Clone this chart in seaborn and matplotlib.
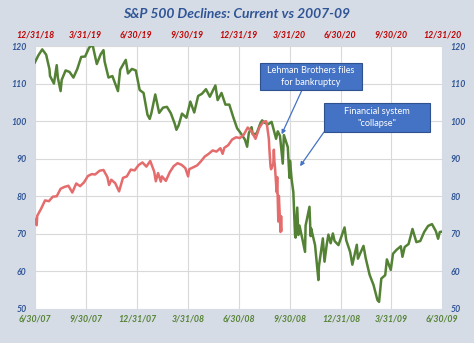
import matplotlib
matplotlib.use("Agg")
import matplotlib.pyplot as plt
from matplotlib.patches import Rectangle
import pandas as pd
import seaborn as sns

# ---- S&P 500 indexed to 100 (2007-09 path vs the 2019-20 path) ----
crisis_dates = [
    "2007-06-29", "2007-07-06", "2007-07-13", "2007-07-20", "2007-07-26", "2007-07-27",
    "2007-08-03", "2007-08-08", "2007-08-10", "2007-08-15", "2007-08-17", "2007-08-24",
    "2007-08-31", "2007-09-07", "2007-09-14", "2007-09-21", "2007-09-28", "2007-10-05",
    "2007-10-09", "2007-10-12", "2007-10-19", "2007-10-26", "2007-10-31", "2007-11-02",
    "2007-11-09", "2007-11-16", "2007-11-26", "2007-11-30", "2007-12-07", "2007-12-10",
    "2007-12-14", "2007-12-21", "2007-12-28", "2008-01-04", "2008-01-11", "2008-01-18",
    "2008-01-22", "2008-01-25", "2008-02-01", "2008-02-08", "2008-02-15", "2008-02-22",
    "2008-02-29", "2008-03-07", "2008-03-10", "2008-03-14", "2008-03-20", "2008-03-28",
    "2008-04-04", "2008-04-11", "2008-04-18", "2008-04-25", "2008-05-02", "2008-05-09",
    "2008-05-19", "2008-05-23", "2008-05-30", "2008-06-06", "2008-06-13", "2008-06-20",
    "2008-06-27", "2008-07-03", "2008-07-11", "2008-07-15", "2008-07-18", "2008-07-23",
    "2008-07-25", "2008-08-01", "2008-08-08", "2008-08-11", "2008-08-15", "2008-08-22",
    "2008-08-28", "2008-09-05", "2008-09-08", "2008-09-12", "2008-09-15", "2008-09-17",
    "2008-09-19", "2008-09-26", "2008-09-29", "2008-09-30", "2008-10-03", "2008-10-06",
    "2008-10-09", "2008-10-10", "2008-10-13", "2008-10-15", "2008-10-17", "2008-10-22",
    "2008-10-24", "2008-10-27", "2008-10-28", "2008-11-04", "2008-11-06", "2008-11-07",
    "2008-11-14", "2008-11-20", "2008-11-21", "2008-11-28", "2008-12-01", "2008-12-05",
    "2008-12-08", "2008-12-12", "2008-12-16", "2008-12-19", "2008-12-26", "2009-01-06",
    "2009-01-09", "2009-01-16", "2009-01-20", "2009-01-23", "2009-01-28", "2009-01-30",
    "2009-02-09", "2009-02-13", "2009-02-20", "2009-02-27", "2009-03-06", "2009-03-09",
    "2009-03-13", "2009-03-20", "2009-03-23", "2009-03-30", "2009-04-03", "2009-04-09",
    "2009-04-17", "2009-04-20", "2009-04-24", "2009-05-01", "2009-05-08", "2009-05-15",
    "2009-05-22", "2009-05-29", "2009-06-05", "2009-06-12", "2009-06-19", "2009-06-23",
    "2009-06-26", "2009-06-30",
]
crisis_values = [
    115.4, 117.5, 119.1, 117.7, 113.8, 112.0,
    110.0, 114.9, 111.6, 108.0, 111.0, 113.5,
    113.1, 111.6, 113.9, 117.1, 117.2, 119.5,
    120.1, 119.9, 115.2, 117.8, 118.9, 115.9,
    111.6, 112.0, 108.0, 113.7, 115.5, 116.3,
    112.7, 113.9, 113.5, 108.3, 107.5, 101.7,
    100.6, 102.1, 107.1, 102.2, 103.6, 103.8,
    102.1, 99.3, 97.7, 98.9, 102.0, 100.9,
    105.2, 102.3, 106.7, 107.3, 108.5, 106.5,
    109.5, 105.6, 107.5, 104.4, 104.4, 101.1,
    98.1, 96.9, 95.1, 93.2, 96.8, 98.4,
    96.5, 96.7, 99.5, 100.2, 99.6, 99.2,
    99.8, 95.3, 97.3, 96.1, 91.5, 88.7,
    96.3, 93.1, 84.9, 89.5, 84.4, 81.1,
    69.8, 69.0, 77.0, 69.7, 72.2, 68.8,
    67.3, 65.2, 72.2, 77.2, 69.4, 71.4,
    67.0, 57.7, 61.4, 68.8, 62.6, 67.2,
    69.8, 67.5, 70.1, 68.1, 67.0, 71.7,
    68.3, 65.2, 61.8, 63.8, 67.1, 63.4,
    66.8, 63.5, 59.1, 56.4, 52.4, 51.9,
    58.1, 59.0, 63.2, 60.4, 64.7, 65.7,
    66.7, 63.9, 66.5, 67.3, 71.3, 67.8,
    68.1, 70.5, 72.1, 72.6, 70.7, 68.7,
    70.5, 70.6,
]

current_dates = [
    "2018-12-31", "2019-01-03", "2019-01-04", "2019-01-11", "2019-01-18", "2019-01-25",
    "2019-02-01", "2019-02-08", "2019-02-15", "2019-02-22", "2019-03-01", "2019-03-08",
    "2019-03-15", "2019-03-22", "2019-03-29", "2019-04-05", "2019-04-12", "2019-04-18",
    "2019-04-26", "2019-05-03", "2019-05-10", "2019-05-13", "2019-05-17", "2019-05-24",
    "2019-05-31", "2019-06-07", "2019-06-14", "2019-06-21", "2019-06-28", "2019-07-05",
    "2019-07-12", "2019-07-19", "2019-07-26", "2019-08-02", "2019-08-05", "2019-08-09",
    "2019-08-14", "2019-08-16", "2019-08-23", "2019-08-30", "2019-09-06", "2019-09-13",
    "2019-09-20", "2019-09-27", "2019-10-02", "2019-10-04", "2019-10-11", "2019-10-18",
    "2019-10-25", "2019-11-01", "2019-11-08", "2019-11-15", "2019-11-22", "2019-11-29",
    "2019-12-03", "2019-12-06", "2019-12-13", "2019-12-20", "2019-12-27", "2020-01-03",
    "2020-01-10", "2020-01-17", "2020-01-24", "2020-01-31", "2020-02-07", "2020-02-14",
    "2020-02-19", "2020-02-21", "2020-02-24", "2020-02-25", "2020-02-27", "2020-02-28",
    "2020-03-03", "2020-03-04", "2020-03-05", "2020-03-06", "2020-03-09", "2020-03-10",
    "2020-03-12", "2020-03-13", "2020-03-16", "2020-03-17", "2020-03-18",
]
current_values = [
    74.0, 72.3, 74.8, 76.7, 78.9, 78.7,
    79.9, 80.0, 82.0, 82.5, 82.8, 81.0,
    83.4, 82.7, 83.7, 85.4, 85.9, 85.8,
    86.8, 87.0, 85.1, 83.0, 84.4, 83.5,
    81.3, 84.9, 85.3, 87.1, 86.9, 88.3,
    89.0, 87.9, 89.4, 86.6, 84.0, 86.2,
    83.9, 85.3, 84.1, 86.4, 88.0, 88.8,
    88.4, 87.5, 85.3, 87.2, 87.7, 88.2,
    89.3, 90.6, 91.3, 92.2, 91.9, 92.8,
    91.3, 92.9, 93.6, 95.1, 95.7, 95.5,
    96.4, 98.3, 97.3, 95.3, 98.3, 99.8,
    100.0, 98.6, 95.3, 92.4, 88.0, 87.2,
    88.7, 92.4, 89.3, 87.8, 81.1, 85.1,
    73.3, 80.1, 70.5, 74.7, 70.8,
]

bottom_ticks = ["2007-06-30", "2007-09-30", "2007-12-31", "2008-03-31", "2008-06-30",
                "2008-09-30", "2008-12-31", "2009-03-31", "2009-06-30"]
bottom_labels = ["6/30/07", "9/30/07", "12/31/07", "3/31/08", "6/30/08",
                 "9/30/08", "12/31/08", "3/31/09", "6/30/09"]
top_ticks = ["2018-12-31", "2019-03-31", "2019-06-30", "2019-09-30", "2019-12-31",
             "2020-03-31", "2020-06-30", "2020-09-30", "2020-12-31"]
top_labels = ["12/31/18", "3/31/19", "6/30/19", "9/30/19", "12/31/19",
              "3/31/20", "6/30/20", "9/30/20", "12/31/20"]
y_ticks = [50, 60, 70, 80, 90, 100, 110, 120]

crisis = pd.DataFrame({"date": pd.to_datetime(crisis_dates), "index": crisis_values})
current = pd.DataFrame({"date": pd.to_datetime(current_dates), "index": current_values})

# ---- styling ----
sns.set_theme(style="white")
plt.rcParams["font.family"] = ["Liberation Sans Narrow", "Lato", "DejaVu Sans"]

W, H = 474, 343
BG = "#d6dce5"
GREEN = "#548235"
RED = "#e46c6c"
BLUE_TXT = "#2f5597"
BOX = "#4472c4"

fig = plt.figure(figsize=(W / 100, H / 100), dpi=100, facecolor=BG)
left, right, top, bottom = 35, 442, 46, 309
ax = fig.add_axes([left / W, 1 - bottom / H, (right - left) / W, (bottom - top) / H])
ax.set_facecolor("white")

sns.lineplot(data=crisis, x="date", y="index", ax=ax, color=GREEN, lw=1.8)
ax2 = ax.twiny()
sns.lineplot(data=current, x="date", y="index", ax=ax2, color=RED, lw=1.8)

ax.set_xlim(pd.Timestamp(bottom_ticks[0]), pd.Timestamp(bottom_ticks[-1]))
ax2.set_xlim(pd.Timestamp(top_ticks[0]), pd.Timestamp(top_ticks[-1]))
ax.set_ylim(50, 120)

tick_font = dict(fontweight="bold", fontstyle="italic", fontsize=6.3)
ax.set_xticks(pd.to_datetime(bottom_ticks))
ax.set_xticklabels(bottom_labels, color=GREEN, **tick_font)
ax2.set_xticks(pd.to_datetime(top_ticks))
ax2.set_xticklabels(top_labels, color="#c00000", **tick_font)
ax.set_yticks(y_ticks)
ax.set_yticklabels([str(v) for v in y_ticks], color=BLUE_TXT, **tick_font)
ax.tick_params(axis="y", length=0, labelleft=True, labelright=True, pad=6)
ax.tick_params(axis="x", length=0, pad=4)
ax2.tick_params(axis="x", length=0, pad=5)

ax.grid(True, color="#d9d9d9", lw=0.8)
ax.set_axisbelow(True)
ax2.grid(False)
for a in (ax, ax2):
    a.set_xlabel("")
    a.set_ylabel("")
    for s in a.spines.values():
        s.set_visible(False)

fig.text(0.5, 1 - 13.5 / H, "S&P 500 Declines: Current vs 2007-09", ha="center", va="center",
         fontsize=10, fontweight="bold", fontstyle="italic", color=BLUE_TXT)


def fig_frac(px, py):
    return px / W, 1 - py / H


# ---- callout boxes ----
callouts = [
    ("Lehman Brothers files\nfor bankruptcy", (260, 63, 362, 90), (302, 90), ("2008-09-15", 96.5)),
    ("Financial system\n\"collapse\"", (324, 103, 430, 132), (324, 132), ("2008-10-18", 88.0)),
]
for text, (x0, y0, x1, y1), start, (tip_date, tip_val) in callouts:
    fx0, fy1 = fig_frac(x0, y1)
    rect = Rectangle((fx0, fy1), (x1 - x0) / W, (y1 - y0) / H, transform=fig.transFigure,
                     facecolor=BOX, edgecolor="#2f528f", lw=0.8, zorder=5)
    fig.add_artist(rect)
    cx, cy = fig_frac((x0 + x1) / 2, (y0 + y1) / 2)
    fig.text(cx, cy, text, ha="center", va="center", color="white", fontsize=6.6,
             family=["Lato", "DejaVu Sans"], linespacing=1.35, zorder=6)
    ax.annotate("", xy=(pd.Timestamp(tip_date), tip_val), xycoords="data",
                xytext=fig_frac(*start), textcoords="figure fraction",
                arrowprops=dict(arrowstyle="-|>", color=BOX, lw=0.9, mutation_scale=6,
                                shrinkA=0, shrinkB=0), zorder=6)

fig.savefig("out.png", dpi=100, facecolor=BG)
